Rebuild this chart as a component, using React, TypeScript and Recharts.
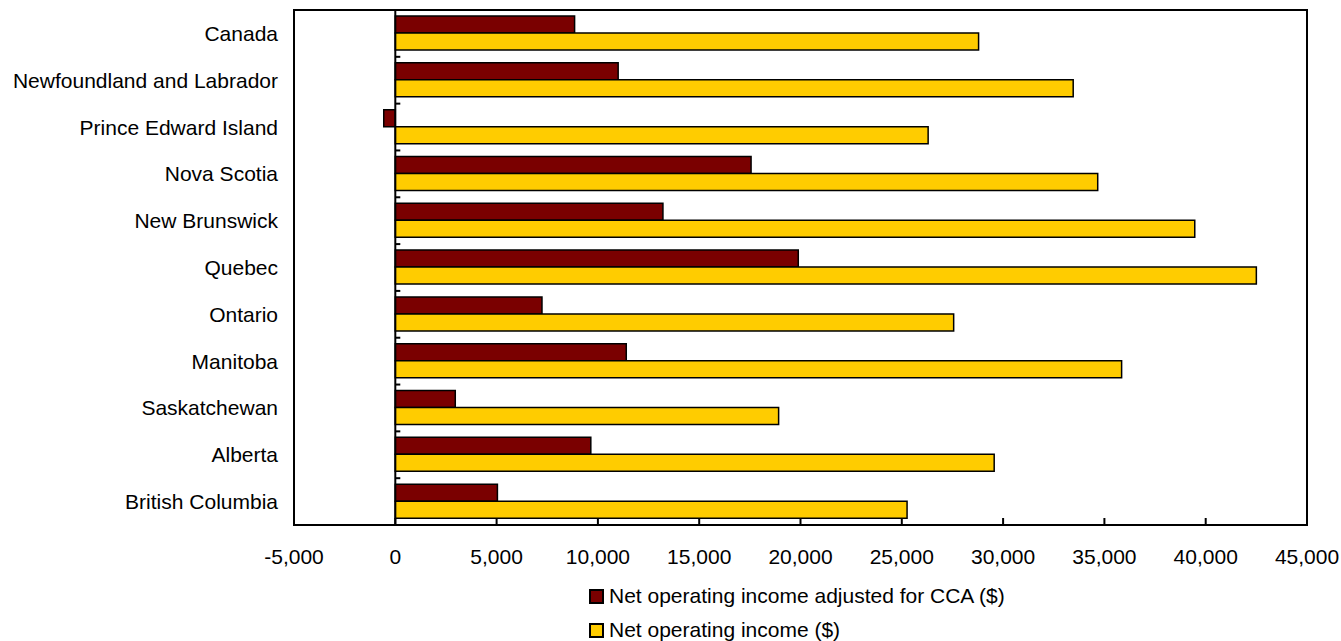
import { BarChart, Bar, XAxis, YAxis, ReferenceArea, ReferenceLine } from 'recharts';

const regions = [
  'Canada',
  'Newfoundland and Labrador',
  'Prince Edward Island',
  'Nova Scotia',
  'New Brunswick',
  'Quebec',
  'Ontario',
  'Manitoba',
  'Saskatchewan',
  'Alberta',
  'British Columbia',
];

const adjustedIncome = [8850, 11000, -570, 17560, 13210, 19890, 7240, 11400, 2960, 9650, 5040];
const operatingIncome = [28790, 33460, 26300, 34670, 39460, 42500, 27560, 35850, 18920, 29560, 25260];

const xTicks = [-5000, 0, 5000, 10000, 15000, 20000, 25000, 30000, 35000, 40000, 45000];

const series = [
  { key: 'adjusted', name: 'Net operating income adjusted for CCA ($)', color: '#7a0000' },
  { key: 'operating', name: 'Net operating income ($)', color: '#ffcc00' },
];

const data = regions.map((region, i) => ({
  region,
  adjusted: adjustedIncome[i],
  operating: operatingIncome[i],
}));

const FONT = '"Liberation Sans", Arial, Helvetica, sans-serif';
const FONT_SIZE = 21;

// zero line with small ticks between the province rows
function ZeroAxis(props: any) {
  const { x1, y1, x2, y2 } = props;
  const step = (y2 - y1) / regions.length;
  const marks = [];
  for (let k = 1; k < regions.length; k++) {
    const y = y1 + k * step;
    marks.push(<line key={k} x1={x1} x2={x1 + 5} y1={y} y2={y} stroke="#000" strokeWidth={2} />);
  }
  return (
    <g>
      <line x1={x1} y1={y1} x2={x2} y2={y2} stroke="#000" strokeWidth={2} />
      {marks}
    </g>
  );
}

export default function App() {
  return (
    <div style={{ position: 'absolute', left: 0, top: 0, width: 1341, height: 641, background: '#fff', fontFamily: FONT, overflow: 'hidden' }}>
      <BarChart
        width={1341}
        height={641}
        data={data}
        layout="vertical"
        margin={{ top: 10, right: 34, bottom: 71, left: 0 }}
        barSize={17}
        barGap={0}
      >
        <XAxis
          type="number"
          domain={[-5000, 45000]}
          ticks={xTicks}
          interval={0}
          allowDataOverflow
          height={45}
          axisLine={false}
          tickSize={-7}
          tickMargin={31}
          tickLine={{ stroke: '#000', strokeWidth: 2 }}
          tick={{ fill: '#000', fontSize: FONT_SIZE, fontFamily: FONT }}
          tickFormatter={(v: number) => v.toLocaleString('en-US')}
        />
        <YAxis
          type="category"
          dataKey="region"
          width={294}
          axisLine={false}
          tickLine={false}
          tickSize={6}
          tickMargin={10}
          interval={0}
          tick={{ fill: '#000', fontSize: FONT_SIZE, fontFamily: FONT }}
        />
        {series.map((s) => (
          <Bar
            key={s.key}
            dataKey={s.key}
            name={s.name}
            fill={s.color}
            stroke="#000"
            strokeWidth={1.5}
            isAnimationActive={false}
          />
        ))}
        <ReferenceLine x={0} shape={ZeroAxis} />
        <ReferenceArea x1={-5000} x2={45000} fill="none" stroke="#000" strokeWidth={2} />
      </BarChart>

      <div style={{ position: 'absolute', left: 589, top: 579 }}>
        {series.map((s) => (
          <div key={s.key} style={{ display: 'flex', alignItems: 'center', height: 34 }}>
            <span
              style={{
                width: 11,
                height: 11,
                background: s.color,
                border: '2px solid #000',
                marginRight: 5,
              }}
            />
            <span style={{ fontSize: FONT_SIZE, color: '#000', lineHeight: '24px' }}>{s.name}</span>
          </div>
        ))}
      </div>
    </div>
  );
}
